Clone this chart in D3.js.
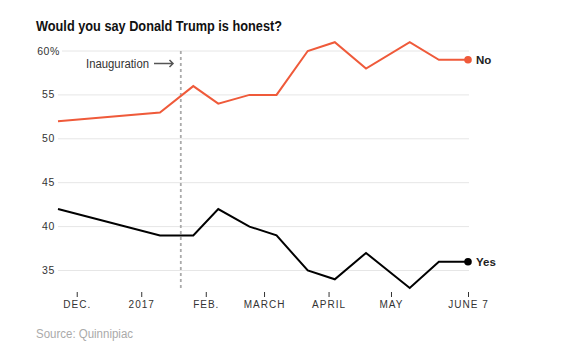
<!DOCTYPE html>
<html>
<head>
<meta charset="utf-8">
<script src="https://cdn.jsdelivr.net/npm/d3@7"></script>
<style>
  body { margin: 0; background: #fff; }
  svg { display: block; font-family: "Liberation Sans", Arial, sans-serif; }
</style>
</head>
<body>
<div class="chart"></div>
<script>
// poll dates and results (Quinnipiac)
const dates = ['2016-11-22', '2017-01-10', '2017-01-26', '2017-02-07', '2017-02-22', '2017-03-07',
               '2017-03-22', '2017-04-04', '2017-04-19', '2017-05-10', '2017-05-24', '2017-06-07']
const noValues  = [52, 53, 56, 54, 55, 55, 60, 61, 58, 61, 59, 59]
const yesValues = [42, 39, 39, 42, 40, 39, 35, 34, 37, 33, 36, 36]

const yTicks = [60, 55, 50, 45, 40, 35]
const xTickDates  = ['2016-12-01', '2017-01-01', '2017-02-01', '2017-03-01', '2017-04-01', '2017-05-01', '2017-06-07']
const xTickLabels = ['DEC.', '2017', 'FEB.', 'MARCH', 'APRIL', 'MAY', 'JUNE 7']
const inauguration = '2017-01-20'

const parse = d3.utcParse('%Y-%m-%d')
const width = 562, height = 360

const svg = d3.select('.chart').append('svg')
  .attr('width', width)
  .attr('height', height)

const x = d3.scaleUtc()
  .domain([parse(dates[0]), parse(dates[dates.length - 1])])
  .range([58, 468])

const y = d3.scaleLinear()
  .domain([35, 60])
  .range([270.5, 51])

// title (franklin is narrow, so squeeze to the same width)
svg.append('text')
  .attr('x', 36).attr('y', 30.5)
  .attr('font-size', 15)
  .attr('font-weight', 'bold')
  .attr('fill', '#111')
  .attr('textLength', 246)
  .attr('lengthAdjust', 'spacingAndGlyphs')
  .text('Would you say Donald Trump is honest?')

// gridlines + y labels
const grid = svg.append('g')
grid.selectAll('line')
  .data(yTicks)
  .enter().append('line')
    .attr('x1', d => d === 60 ? 62 : 58)
    .attr('x2', 469)
    .attr('y1', d => y(d)).attr('y2', d => y(d))
    .attr('stroke', '#e6e6e6')
    .attr('stroke-width', 1)

grid.selectAll('text')
  .data(yTicks)
  .enter().append('text')
    .attr('x', d => d === 60 ? 60 : 55)
    .attr('y', d => y(d) + 3.5)
    .attr('text-anchor', 'end')
    .attr('font-size', 10.5)
    .attr('letter-spacing', 0.6)
    .attr('fill', '#333')
    .text(d => d === 60 ? d + '%' : d)

// x axis
const xAxis = d3.axisBottom(x)
  .tickValues(xTickDates.map(parse))
  .tickFormat((d, i) => xTickLabels[i])
  .tickSize(5)
  .tickPadding(4)

svg.append('g')
  .attr('transform', 'translate(0,292)')
  .call(xAxis)
  .call(g => g.select('.domain').remove())
  .call(g => g.selectAll('line').attr('stroke', '#333'))
  .call(g => g.selectAll('text')
    .attr('font-family', '"Liberation Sans", Arial, sans-serif')
    .attr('font-size', 10)
    .attr('letter-spacing', 1)
    .attr('fill', '#333'))

// inauguration marker
const xi = x(parse(inauguration))
svg.append('line')
  .attr('x1', xi).attr('x2', xi)
  .attr('y1', 51).attr('y2', 289)
  .attr('stroke', '#aaa')
  .attr('stroke-width', 1.8)
  .attr('stroke-dasharray', '3,3')

svg.append('text')
  .attr('x', 149).attr('y', 67.5)
  .attr('text-anchor', 'end')
  .attr('font-size', 12)
  .attr('fill', '#333')
  .attr('textLength', 63)
  .attr('lengthAdjust', 'spacingAndGlyphs')
  .text('Inauguration')

svg.append('path')
  .attr('d', 'M154,63.5 L173,63.5 M169.5,60 L173,63.5 L169.5,67')
  .attr('fill', 'none')
  .attr('stroke', '#555')
  .attr('stroke-width', 1.5)

// series
const series = [
  { name: 'No',  values: noValues,  color: '#ef5a3a' },
  { name: 'Yes', values: yesValues, color: '#000' }
]

const line = d3.line()
  .x((d, i) => x(parse(dates[i])))
  .y(d => y(d))

series.forEach(s => {
  svg.append('path')
    .datum(s.values)
    .attr('d', line)
    .attr('fill', 'none')
    .attr('stroke', s.color)
    .attr('stroke-width', 2)
    .attr('stroke-linejoin', 'miter')

  const last = s.values.length - 1
  svg.append('circle')
    .attr('cx', x(parse(dates[last])))
    .attr('cy', y(s.values[last]))
    .attr('r', 3.8)
    .attr('fill', s.color)

  svg.append('text')
    .attr('x', x(parse(dates[last])) + 8)
    .attr('y', y(s.values[last]) + 4)
    .attr('font-size', 11.5)
    .attr('font-weight', 'bold')
    .attr('fill', '#222')
    .text(s.name)
})

// source
svg.append('text')
  .attr('x', 36).attr('y', 338)
  .attr('font-size', 12)
  .attr('fill', '#aaa')
  .attr('textLength', 97)
  .attr('lengthAdjust', 'spacingAndGlyphs')
  .text('Source: Quinnipiac')
</script>
</body>
</html>
